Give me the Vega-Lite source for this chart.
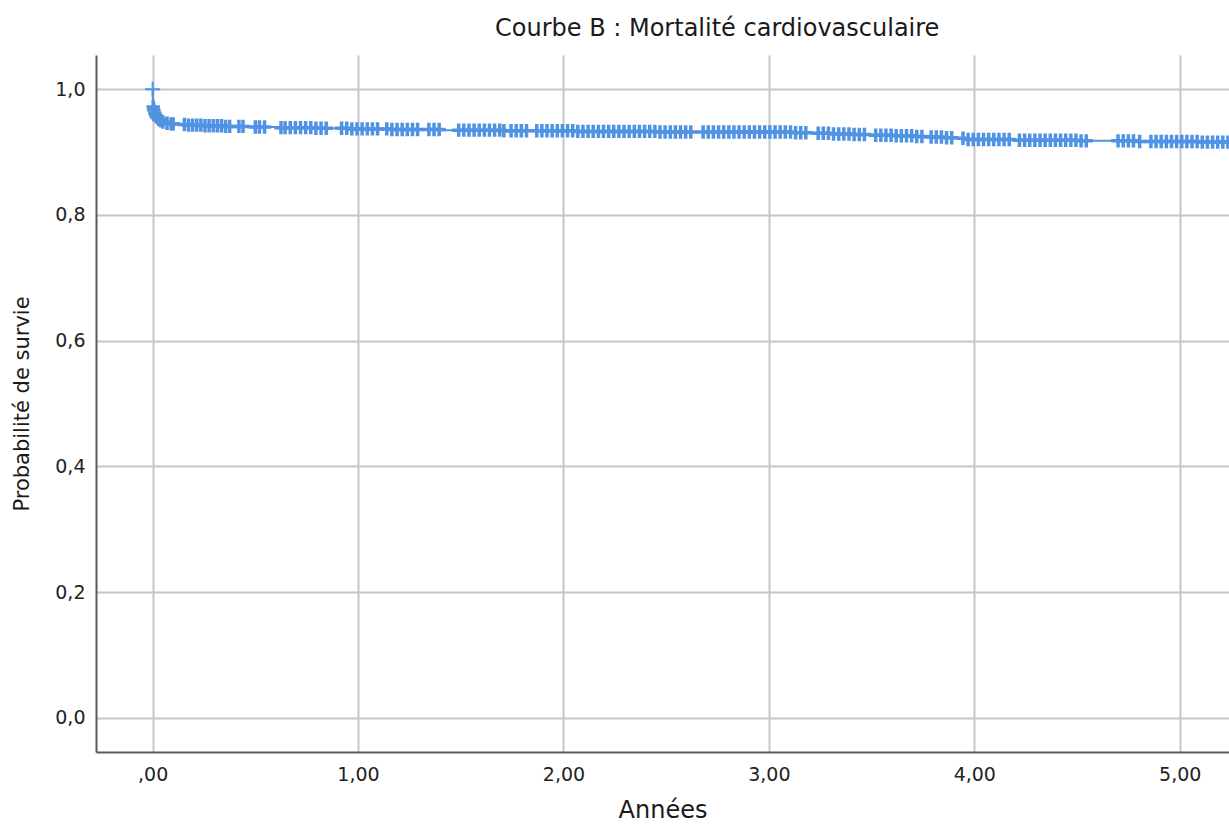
{
  "$schema": "https://vega.github.io/schema/vega-lite/v6.json",
  "autosize": "none",
  "width": 1133,
  "height": 697,
  "padding": {"left": 96, "top": 55, "right": 0, "bottom": 73},
  "background": "white",
  "config": {
    "font": "DejaVu Sans",
    "view": {"stroke": null}
  },
  "title": {
    "text": "Courbe B : Mortalité cardiovasculaire",
    "fontSize": 24,
    "fontWeight": "normal",
    "color": "#1a1a1a",
    "anchor": "start",
    "frame": "group",
    "dx": 399,
    "dy": 26,
    "baseline": "alphabetic",
    "offset": 21
  },
  "data": {
    "values": [
      {"t": 0, "s": 1.0, "c": 1},
      {"t": 0.001, "s": 0.972, "c": 0},
      {"t": 0.003, "s": 0.972, "c": 1},
      {"t": 0.004, "s": 0.967, "c": 0},
      {"t": 0.006, "s": 0.967, "c": 1},
      {"t": 0.008, "s": 0.962, "c": 0},
      {"t": 0.011, "s": 0.962, "c": 1},
      {"t": 0.013, "s": 0.958, "c": 0},
      {"t": 0.016, "s": 0.958, "c": 1},
      {"t": 0.019, "s": 0.955, "c": 0},
      {"t": 0.022, "s": 0.955, "c": 1},
      {"t": 0.026, "s": 0.952, "c": 0},
      {"t": 0.03, "s": 0.952, "c": 1},
      {"t": 0.034, "s": 0.950, "c": 0},
      {"t": 0.04, "s": 0.950, "c": 1},
      {"t": 0.045, "s": 0.948, "c": 0},
      {"t": 0.05, "s": 0.948, "c": 1},
      {"t": 0.06, "s": 0.946, "c": 0},
      {"t": 0.07, "s": 0.946, "c": 1},
      {"t": 0.08, "s": 0.945, "c": 0},
      {"t": 0.09, "s": 0.945, "c": 1},
      {"t": 0.1, "s": 0.945, "c": 1},
      {"t": 0.11, "s": 0.944, "c": 0},
      {"t": 0.155, "s": 0.944, "c": 1},
      {"t": 0.16, "s": 0.943, "c": 0},
      {"t": 0.175, "s": 0.943, "c": 1},
      {"t": 0.195, "s": 0.943, "c": 1},
      {"t": 0.215, "s": 0.943, "c": 1},
      {"t": 0.235, "s": 0.943, "c": 1},
      {"t": 0.24, "s": 0.942, "c": 0},
      {"t": 0.255, "s": 0.942, "c": 1},
      {"t": 0.275, "s": 0.942, "c": 1},
      {"t": 0.295, "s": 0.942, "c": 1},
      {"t": 0.315, "s": 0.942, "c": 1},
      {"t": 0.335, "s": 0.942, "c": 1},
      {"t": 0.35, "s": 0.941, "c": 0},
      {"t": 0.355, "s": 0.941, "c": 1},
      {"t": 0.375, "s": 0.941, "c": 1},
      {"t": 0.42, "s": 0.941, "c": 1},
      {"t": 0.44, "s": 0.941, "c": 1},
      {"t": 0.48, "s": 0.940, "c": 0},
      {"t": 0.5, "s": 0.940, "c": 1},
      {"t": 0.52, "s": 0.940, "c": 1},
      {"t": 0.545, "s": 0.940, "c": 1},
      {"t": 0.62, "s": 0.939, "c": 0},
      {"t": 0.625, "s": 0.939, "c": 1},
      {"t": 0.645, "s": 0.939, "c": 1},
      {"t": 0.67, "s": 0.939, "c": 1},
      {"t": 0.695, "s": 0.939, "c": 1},
      {"t": 0.72, "s": 0.939, "c": 1},
      {"t": 0.745, "s": 0.939, "c": 1},
      {"t": 0.77, "s": 0.939, "c": 1},
      {"t": 0.78, "s": 0.938, "c": 0},
      {"t": 0.795, "s": 0.938, "c": 1},
      {"t": 0.82, "s": 0.938, "c": 1},
      {"t": 0.845, "s": 0.938, "c": 1},
      {"t": 0.92, "s": 0.938, "c": 1},
      {"t": 0.945, "s": 0.938, "c": 1},
      {"t": 0.95, "s": 0.937, "c": 0},
      {"t": 0.97, "s": 0.937, "c": 1},
      {"t": 0.995, "s": 0.937, "c": 1},
      {"t": 1.02, "s": 0.937, "c": 1},
      {"t": 1.045, "s": 0.937, "c": 1},
      {"t": 1.07, "s": 0.937, "c": 1},
      {"t": 1.095, "s": 0.937, "c": 1},
      {"t": 1.14, "s": 0.937, "c": 1},
      {"t": 1.15, "s": 0.936, "c": 0},
      {"t": 1.165, "s": 0.936, "c": 1},
      {"t": 1.19, "s": 0.936, "c": 1},
      {"t": 1.215, "s": 0.936, "c": 1},
      {"t": 1.24, "s": 0.936, "c": 1},
      {"t": 1.265, "s": 0.936, "c": 1},
      {"t": 1.29, "s": 0.936, "c": 1},
      {"t": 1.345, "s": 0.936, "c": 1},
      {"t": 1.37, "s": 0.936, "c": 1},
      {"t": 1.395, "s": 0.936, "c": 1},
      {"t": 1.4, "s": 0.935, "c": 0},
      {"t": 1.49, "s": 0.935, "c": 1},
      {"t": 1.515, "s": 0.935, "c": 1},
      {"t": 1.54, "s": 0.935, "c": 1},
      {"t": 1.565, "s": 0.935, "c": 1},
      {"t": 1.59, "s": 0.935, "c": 1},
      {"t": 1.615, "s": 0.935, "c": 1},
      {"t": 1.64, "s": 0.935, "c": 1},
      {"t": 1.665, "s": 0.935, "c": 1},
      {"t": 1.69, "s": 0.935, "c": 1},
      {"t": 1.7, "s": 0.934, "c": 0},
      {"t": 1.71, "s": 0.934, "c": 1},
      {"t": 1.745, "s": 0.934, "c": 1},
      {"t": 1.77, "s": 0.934, "c": 1},
      {"t": 1.795, "s": 0.934, "c": 1},
      {"t": 1.82, "s": 0.934, "c": 1},
      {"t": 1.87, "s": 0.934, "c": 1},
      {"t": 1.895, "s": 0.934, "c": 1},
      {"t": 1.92, "s": 0.934, "c": 1},
      {"t": 1.945, "s": 0.934, "c": 1},
      {"t": 1.97, "s": 0.934, "c": 1},
      {"t": 1.995, "s": 0.934, "c": 1},
      {"t": 2.02, "s": 0.934, "c": 1},
      {"t": 2.045, "s": 0.934, "c": 1},
      {"t": 2.05, "s": 0.933, "c": 0},
      {"t": 2.07, "s": 0.933, "c": 1},
      {"t": 2.095, "s": 0.933, "c": 1},
      {"t": 2.12, "s": 0.933, "c": 1},
      {"t": 2.145, "s": 0.933, "c": 1},
      {"t": 2.17, "s": 0.933, "c": 1},
      {"t": 2.195, "s": 0.933, "c": 1},
      {"t": 2.22, "s": 0.933, "c": 1},
      {"t": 2.245, "s": 0.933, "c": 1},
      {"t": 2.27, "s": 0.933, "c": 1},
      {"t": 2.295, "s": 0.933, "c": 1},
      {"t": 2.32, "s": 0.933, "c": 1},
      {"t": 2.345, "s": 0.933, "c": 1},
      {"t": 2.37, "s": 0.933, "c": 1},
      {"t": 2.395, "s": 0.933, "c": 1},
      {"t": 2.42, "s": 0.933, "c": 1},
      {"t": 2.445, "s": 0.933, "c": 1},
      {"t": 2.45, "s": 0.932, "c": 0},
      {"t": 2.47, "s": 0.932, "c": 1},
      {"t": 2.495, "s": 0.932, "c": 1},
      {"t": 2.52, "s": 0.932, "c": 1},
      {"t": 2.545, "s": 0.932, "c": 1},
      {"t": 2.57, "s": 0.932, "c": 1},
      {"t": 2.595, "s": 0.932, "c": 1},
      {"t": 2.62, "s": 0.932, "c": 1},
      {"t": 2.68, "s": 0.932, "c": 1},
      {"t": 2.705, "s": 0.932, "c": 1},
      {"t": 2.73, "s": 0.932, "c": 1},
      {"t": 2.755, "s": 0.932, "c": 1},
      {"t": 2.78, "s": 0.932, "c": 1},
      {"t": 2.805, "s": 0.932, "c": 1},
      {"t": 2.83, "s": 0.932, "c": 1},
      {"t": 2.855, "s": 0.932, "c": 1},
      {"t": 2.88, "s": 0.932, "c": 1},
      {"t": 2.905, "s": 0.932, "c": 1},
      {"t": 2.93, "s": 0.932, "c": 1},
      {"t": 2.955, "s": 0.932, "c": 1},
      {"t": 2.98, "s": 0.932, "c": 1},
      {"t": 3.005, "s": 0.932, "c": 1},
      {"t": 3.03, "s": 0.932, "c": 1},
      {"t": 3.055, "s": 0.932, "c": 1},
      {"t": 3.08, "s": 0.932, "c": 1},
      {"t": 3.105, "s": 0.932, "c": 1},
      {"t": 3.12, "s": 0.931, "c": 0},
      {"t": 3.13, "s": 0.931, "c": 1},
      {"t": 3.155, "s": 0.931, "c": 1},
      {"t": 3.18, "s": 0.931, "c": 1},
      {"t": 3.22, "s": 0.930, "c": 0},
      {"t": 3.24, "s": 0.930, "c": 1},
      {"t": 3.265, "s": 0.930, "c": 1},
      {"t": 3.29, "s": 0.930, "c": 1},
      {"t": 3.3, "s": 0.929, "c": 0},
      {"t": 3.315, "s": 0.929, "c": 1},
      {"t": 3.34, "s": 0.929, "c": 1},
      {"t": 3.365, "s": 0.929, "c": 1},
      {"t": 3.39, "s": 0.929, "c": 1},
      {"t": 3.4, "s": 0.928, "c": 0},
      {"t": 3.415, "s": 0.928, "c": 1},
      {"t": 3.44, "s": 0.928, "c": 1},
      {"t": 3.465, "s": 0.928, "c": 1},
      {"t": 3.5, "s": 0.927, "c": 0},
      {"t": 3.52, "s": 0.927, "c": 1},
      {"t": 3.545, "s": 0.927, "c": 1},
      {"t": 3.57, "s": 0.927, "c": 1},
      {"t": 3.595, "s": 0.927, "c": 1},
      {"t": 3.6, "s": 0.926, "c": 0},
      {"t": 3.62, "s": 0.926, "c": 1},
      {"t": 3.645, "s": 0.926, "c": 1},
      {"t": 3.67, "s": 0.926, "c": 1},
      {"t": 3.695, "s": 0.926, "c": 1},
      {"t": 3.7, "s": 0.925, "c": 0},
      {"t": 3.72, "s": 0.925, "c": 1},
      {"t": 3.745, "s": 0.925, "c": 1},
      {"t": 3.78, "s": 0.924, "c": 0},
      {"t": 3.79, "s": 0.924, "c": 1},
      {"t": 3.815, "s": 0.924, "c": 1},
      {"t": 3.84, "s": 0.924, "c": 1},
      {"t": 3.86, "s": 0.923, "c": 0},
      {"t": 3.865, "s": 0.923, "c": 1},
      {"t": 3.89, "s": 0.923, "c": 1},
      {"t": 3.9, "s": 0.922, "c": 0},
      {"t": 3.945, "s": 0.922, "c": 1},
      {"t": 3.96, "s": 0.920, "c": 0},
      {"t": 3.97, "s": 0.920, "c": 1},
      {"t": 3.995, "s": 0.920, "c": 1},
      {"t": 4.02, "s": 0.920, "c": 1},
      {"t": 4.045, "s": 0.920, "c": 1},
      {"t": 4.07, "s": 0.920, "c": 1},
      {"t": 4.095, "s": 0.920, "c": 1},
      {"t": 4.12, "s": 0.920, "c": 1},
      {"t": 4.145, "s": 0.920, "c": 1},
      {"t": 4.17, "s": 0.920, "c": 1},
      {"t": 4.2, "s": 0.919, "c": 0},
      {"t": 4.22, "s": 0.919, "c": 1},
      {"t": 4.245, "s": 0.919, "c": 1},
      {"t": 4.27, "s": 0.919, "c": 1},
      {"t": 4.295, "s": 0.919, "c": 1},
      {"t": 4.32, "s": 0.919, "c": 1},
      {"t": 4.345, "s": 0.919, "c": 1},
      {"t": 4.37, "s": 0.919, "c": 1},
      {"t": 4.395, "s": 0.919, "c": 1},
      {"t": 4.42, "s": 0.919, "c": 1},
      {"t": 4.445, "s": 0.919, "c": 1},
      {"t": 4.47, "s": 0.919, "c": 1},
      {"t": 4.495, "s": 0.919, "c": 1},
      {"t": 4.5, "s": 0.918, "c": 0},
      {"t": 4.52, "s": 0.918, "c": 1},
      {"t": 4.545, "s": 0.918, "c": 1},
      {"t": 4.7, "s": 0.918, "c": 1},
      {"t": 4.725, "s": 0.918, "c": 1},
      {"t": 4.75, "s": 0.918, "c": 1},
      {"t": 4.775, "s": 0.918, "c": 1},
      {"t": 4.8, "s": 0.917, "c": 0},
      {"t": 4.805, "s": 0.917, "c": 1},
      {"t": 4.86, "s": 0.917, "c": 1},
      {"t": 4.885, "s": 0.917, "c": 1},
      {"t": 4.91, "s": 0.917, "c": 1},
      {"t": 4.935, "s": 0.917, "c": 1},
      {"t": 4.96, "s": 0.917, "c": 1},
      {"t": 4.985, "s": 0.917, "c": 1},
      {"t": 5.01, "s": 0.917, "c": 1},
      {"t": 5.035, "s": 0.917, "c": 1},
      {"t": 5.06, "s": 0.917, "c": 1},
      {"t": 5.085, "s": 0.917, "c": 1},
      {"t": 5.1, "s": 0.916, "c": 0},
      {"t": 5.11, "s": 0.916, "c": 1},
      {"t": 5.135, "s": 0.916, "c": 1},
      {"t": 5.16, "s": 0.916, "c": 1},
      {"t": 5.185, "s": 0.916, "c": 1},
      {"t": 5.21, "s": 0.916, "c": 1},
      {"t": 5.235, "s": 0.916, "c": 1},
      {"t": 5.26, "s": 0.916, "c": 1}
    ]
  },
  "encoding": {
    "x": {
      "field": "t",
      "type": "quantitative",
      "scale": {"domain": [-0.2756, 5.24], "nice": false, "zero": false},
      "axis": {
        "values": [0, 1, 2, 3, 4, 5],
        "labelExpr": "datum.value == 0 ? ',00' : replace(format(datum.value, '.2f'), '.', ',')",
        "grid": true,
        "gridColor": "#c6c6c6",
        "gridWidth": 2,
        "domainColor": "#5a5a5a",
        "domainWidth": 2,
        "ticks": false,
        "labelFontSize": 19,
        "labelColor": "#222222",
        "labelPadding": 13,
        "labelFlush": false,
        "title": "Années",
        "titleFontSize": 24,
        "titleFontWeight": "normal",
        "titleColor": "#1a1a1a",
        "titleY": 65,
        "titleBaseline": "alphabetic"
      }
    },
    "y": {
      "field": "s",
      "type": "quantitative",
      "scale": {"domain": [-0.0546, 1.0546], "nice": false, "zero": false},
      "axis": {
        "values": [0, 0.2, 0.4, 0.6, 0.8, 1.0],
        "labelExpr": "replace(format(datum.value, '.1f'), '.', ',')",
        "grid": true,
        "gridColor": "#c6c6c6",
        "gridWidth": 2,
        "domainColor": "#5a5a5a",
        "domainWidth": 2,
        "ticks": false,
        "labelFontSize": 19,
        "labelColor": "#222222",
        "labelPadding": 11,
        "labelFlush": false,
        "title": "Probabilité de survie",
        "titleFontSize": 21,
        "titleFontWeight": "normal",
        "titleColor": "#1a1a1a",
        "titleX": -74,
        "titleBaseline": "middle",
        "titleAngle": -90
      }
    }
  },
  "layer": [
    {
      "mark": {"type": "line", "interpolate": "step-after", "color": "#5093e3", "strokeWidth": 2, "clip": true}
    },
    {
      "transform": [{"filter": "datum.c == 1 && datum.t > 0"}],
      "mark": {
        "type": "point",
        "shape": "M-1,0H1M0,-1V1",
        "filled": false,
        "color": "#5093e3",
        "strokeWidth": 3.5,
        "size": 180,
        "opacity": 1,
        "clip": true
      }
    },
    {
      "transform": [{"filter": "datum.c == 1 && datum.t == 0"}],
      "mark": {
        "type": "point",
        "shape": "M-1,0H1M0,-1V1",
        "filled": false,
        "color": "#5093e3",
        "strokeWidth": 2,
        "size": 225,
        "opacity": 1,
        "clip": true
      }
    }
  ]
}
